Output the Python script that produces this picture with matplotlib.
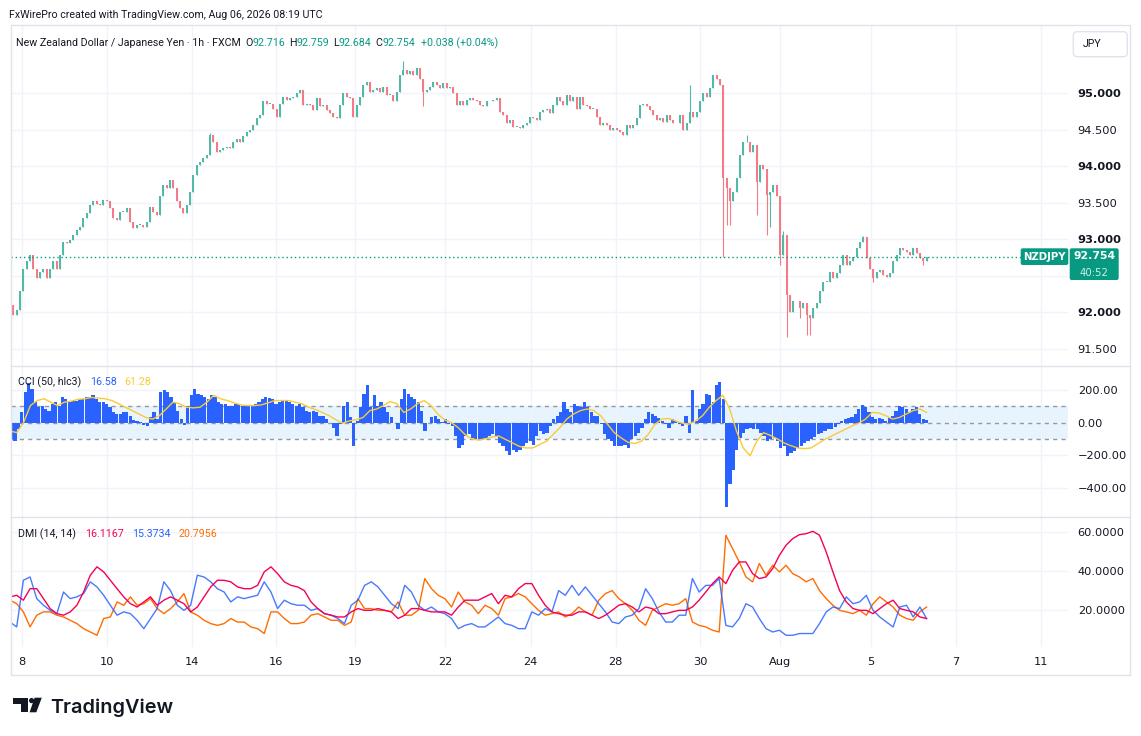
import numpy as np
import matplotlib
matplotlib.use("Agg")
import matplotlib.pyplot as plt
from matplotlib.patches import Rectangle, FancyBboxPatch, Circle, Polygon
from matplotlib.lines import Line2D
from matplotlib.transforms import IdentityTransform, blended_transform_factory

plt.rcParams["font.family"] = ["DejaVu Sans"]

# ---- values (one bar is roughly 1.9 hours) ----
closes = [
    92.10, 91.97, 92.03, 92.29, 92.60, 92.70, 92.79, 92.60, 92.47, 92.56,
    92.60, 92.47, 92.60, 92.70, 92.60, 92.79, 92.97, 92.95, 92.99, 93.06,
    93.13, 93.17, 93.29, 93.36, 93.47, 93.52, 93.49, 93.47, 93.54, 93.52,
    93.43, 93.29, 93.27, 93.38, 93.38, 93.43, 93.24, 93.15, 93.20, 93.20,
    93.17, 93.24, 93.45, 93.38, 93.33, 93.59, 93.74, 93.70, 93.81, 93.70,
    93.52, 93.43, 93.36, 93.47, 93.65, 93.88, 94.02, 94.06, 94.11, 94.16,
    94.43, 94.34, 94.20, 94.22, 94.25, 94.27, 94.25, 94.34, 94.38, 94.33,
    94.41, 94.47, 94.50, 94.57, 94.66, 94.70, 94.89, 94.86,
    94.86, 94.79, 94.68, 94.86, 94.95, 94.91, 94.93, 94.95, 95.00, 95.05,
    94.84, 94.86, 94.84, 94.77, 94.93, 94.82, 94.84, 94.77, 94.73, 94.68,
    94.66, 94.84, 95.00, 94.95, 94.93, 94.68, 94.84, 94.95, 95.11, 95.16,
    95.02, 95.05, 95.07, 95.02, 95.09, 94.98, 94.98, 94.89, 95.02, 95.25,
    95.32, 95.27, 95.30, 95.25, 95.34, 95.20, 95.02, 95.05, 95.09, 95.16,
    95.11, 95.07, 95.14, 95.07, 95.09, 95.00, 94.84, 94.89, 94.84, 94.91,
    94.93, 94.91, 94.89, 94.84, 94.82, 94.89, 94.89, 94.91, 94.93, 94.75,
    94.70, 94.59, 94.63, 94.54, 94.54, 94.52, 94.57, 94.59,
    94.68, 94.66, 94.63, 94.75, 94.77, 94.79, 94.73, 94.84, 94.95, 94.89,
    94.84, 94.98, 94.89, 94.95, 94.79, 94.95, 94.84, 94.82, 94.79, 94.79,
    94.68, 94.57, 94.59, 94.57, 94.50, 94.52, 94.50, 94.47, 94.43, 94.57,
    94.52, 94.57, 94.66, 94.84, 94.86, 94.82, 94.77, 94.70, 94.63, 94.66,
    94.61, 94.70, 94.63, 94.59, 94.59, 94.70, 94.50, 94.59, 94.75, 94.68,
    94.75, 94.89, 95.00, 94.95, 95.07, 95.25, 95.20, 95.11, 93.84, 93.70,
    93.52, 93.65, 93.84, 94.16, 94.33, 94.34, 94.20, 94.29, 93.79, 94.02,
    93.97, 93.61, 93.65, 93.74, 93.59, 92.79, 93.06, 92.24,
    92.01, 92.15, 92.15, 92.06, 92.13, 91.97, 91.92, 92.06, 92.13, 92.29,
    92.42, 92.42, 92.56, 92.47, 92.54, 92.65, 92.79, 92.65, 92.70, 92.76,
    92.88, 92.97, 93.03, 92.74, 92.60, 92.47, 92.56, 92.58, 92.51, 92.49,
    92.54, 92.70, 92.79, 92.88, 92.86, 92.83, 92.79, 92.88, 92.81, 92.74,
    92.70, 92.754,
]
first_open = 92.13
wick_highs = {60: 94.45, 118: 95.44, 204: 95.12, 221: 94.43, 232: 93.11, 256: 93.05}
wick_lows = {124: 94.82, 214: 92.76, 215: 93.20, 216: 93.20, 224: 93.33, 227: 93.06,
             228: 93.17, 231: 92.65, 233: 91.67, 237: 91.92, 239: 91.69, 240: 91.69,
             259: 92.42, 274: 92.65}
last_price = 92.754

cci = [
    -104, -115, -42, 62, 188, 240, 208, 125, 94, 104,
    83, 73, 115, 125, 104, 156, 146, 125, 135, 135,
    146, 146, 156, 156, 167, 146, 125, 125, 115, 94,
    62, 52, 52, 62, 62, 42, 17, 10, 4, -17,
    -21, 31, 62, 21, 188, 198, 188, 156, 125, 73,
    21, -17, 104, 167, 204, 177, 167, 156, 146, 167,
    156, 125, 115, 115, 104, 104, 115, 115, 104, 104,
    104, 108, 115, 129, 146, 156, 150, 146, 115, 125,
    135, 135, 125, 115, 104, 115, 94, 73, 62, 73,
    62, 42, 42, 21, 0, -31, -83, -10, 104, 125,
    31, -146, 10, 94, 177, 229, 94, 167, 104, 125,
    94, 62, 31, 0, -37, 146, 208, 177, 156, 146,
    125, 73, -52, 0, 31, 42, 21, 4, 21, -10,
    -21, -83, -156, -135, -83, -73, -94, -104, -100, -104,
    -94, -83, -73, -83, -125, -146, -177, -198, -167, -183,
    -167, -146, -125, -115,
    -135, -83, -52, -73, -62, -21, 21, 42, 62, 125,
    83, 62, 115, 104, 94, 125, 94, 62, 42, 42,
    -10, -73, -104, -115, -146, -146, -146, -135, -156, -104,
    -83, -62, -31, 21, 62, 52, 42, 25, 10, -10,
    -31, 21, 10, -10, -21, 42, -62, 198, 10, 83,
    115, 177, 167, 125, 229, 250, 146, -521, -375, -292,
    -167, -94, -62, -42, -31, -42, -42, -62, -83, -115,
    -104, -94, -115, -156, -146, -208, -188, -177, -156, -146,
    -125, -115, -104, -88, -73, -62, -52, -42, -37, -27,
    -10, 10, 21, 25, 31, 52, 83, 108, 94, 62,
    31, 21, 25, 21, 10, 25, 42, 73, 104, 94,
    83, 62, 83, 94, 52, 21, 17,
]
cci_ma = [
    -52, -62, 0, 104, 135, 146, 125, 104, 125, 131,
    142, 146, 154, 150, 146, 135, 115, 94, 73, 52,
    31, 21, 42, 83, 125, 115, 94, 90, 94, 125,
    167, 146, 135, 121, 108, 104, 104, 108, 121, 135,
    135, 135, 125, 115, 94, 79, 62, 42, 17, -4,
    10, 17, 31, 73, 83, 104, 129, 115, 62, 83,
    115, 135, 104, 52, 17, 0, -31, -73, -100, -108,
    -100, -88, -83, -104, -125, -146, -156,
    -156, -135, -115, -73, -31, 21, 52, 73, 83, 73,
    42, -10, -62, -94, -121, -129, -115, -73, -10, 21,
    25, 10, -4, -10, 10, 42, 94, 135, 167, 83,
    -52, -156, -204, -115, -62, -79, -100, -125, -142, -156,
    -160, -156, -129, -104, -83, -62, -42, -21, -4, 21,
    62, 58, 42, 21, 31, 52, 73, 83, 62,
]
adx = [
    26.7, 27.5, 25.0, 30.9, 30.9, 25.8, 20.7, 18.1, 17.3, 19.0,
    22.4, 29.2, 37.8, 42.1, 39.5, 35.2, 30.9, 26.7, 23.2, 21.5,
    24.1, 26.7, 22.4, 25.0, 26.7, 25.0, 23.2, 19.0, 21.5, 26.7,
    31.8, 35.2, 35.2, 34.4, 31.8, 30.9, 30.9, 32.6, 39.5, 42.1,
    38.6, 34.4, 32.6, 31.8, 29.9, 24.1, 20.7, 18.1, 17.3, 16.4,
    16.4, 19.0, 20.7, 19.8, 19.8, 20.7, 19.8, 19.0, 15.6, 17.3,
    20.7, 20.7, 19.8, 19.0, 19.0, 19.0, 17.3, 21.5, 25.0, 25.0, 25.0,
    26.7, 28.4, 23.2, 27.5, 26.7, 30.9, 33.5, 33.5, 27.5, 22.4,
    19.0, 18.1, 17.3, 17.3, 19.0, 19.0, 17.3, 15.6, 17.3, 19.8,
    22.4, 23.2, 21.5, 19.0, 21.5, 20.7, 18.1, 18.1, 19.0, 19.8,
    19.8, 21.5, 25.0, 29.2, 33.5, 36.9, 33.5, 40.3, 44.6, 44.6,
    38.6, 36.1, 36.9, 41.2, 48.0, 53.2, 56.6, 58.6, 59.1, 60.3,
    58.3, 49.7, 39.5, 29.9, 24.1, 20.7, 19.8, 19.8, 18.1, 20.7,
    23.2, 25.0, 20.7, 19.8, 19.0, 16.4, 15.6,
]
plus_di = [
    13.8, 11.3, 35.2, 36.9, 25.8, 22.4, 19.8, 18.1, 29.2, 25.8,
    26.7, 28.4, 34.4, 31.8, 27.5, 22.4, 17.3, 19.0, 18.1, 14.7,
    10.4, 15.6, 20.7, 34.4, 29.9, 22.4, 19.8, 22.4, 37.8, 36.9,
    34.4, 30.9, 29.2, 24.1, 26.7, 25.8, 26.7, 27.5, 34.4, 29.2,
    20.7, 25.0, 23.2, 22.4, 22.4, 19.8, 20.7, 18.1, 17.3, 15.6,
    13.0, 22.4, 25.0, 32.6, 34.4, 31.8, 27.5, 23.2, 20.7, 32.6,
    29.2, 22.4, 19.8, 21.5, 19.0, 18.1, 15.6, 10.4, 12.1, 13.0, 11.3,
    11.3, 13.8, 16.4, 13.0, 12.1, 10.4, 10.4, 19.0, 17.3, 20.7,
    19.0, 29.9, 27.5, 32.6, 27.5, 31.8, 27.5, 23.2, 19.0, 13.8,
    13.0, 16.4, 17.3, 20.7, 30.9, 25.8, 19.0, 13.8, 13.8, 17.3,
    17.3, 36.1, 29.2, 32.6, 32.6, 36.1, 12.1, 11.3, 15.6, 23.2,
    21.5, 15.6, 10.4, 8.7, 9.6, 7.0, 7.0, 7.9, 7.9, 7.9,
    13.0, 19.0, 21.5, 20.7, 26.7, 23.2, 24.1, 27.5, 19.8, 16.4,
    13.8, 11.3, 21.5, 22.4, 16.4, 21.5, 15.6,
]
minus_di = [
    25.0, 23.2, 19.0, 11.3, 17.3, 19.0, 19.0, 17.3, 16.4, 14.7,
    13.0, 10.4, 8.7, 7.0, 15.6, 16.4, 24.1, 22.4, 26.7, 22.4,
    23.2, 25.8, 20.7, 18.1, 20.7, 24.1, 28.4, 19.0, 17.3, 14.7,
    13.0, 12.1, 13.0, 15.6, 13.8, 13.8, 11.3, 10.4, 7.9, 19.0,
    19.0, 15.6, 13.0, 13.0, 13.8, 17.3, 18.1, 16.4, 14.7, 14.7,
    12.1, 13.8, 25.8, 20.7, 20.7, 19.8, 19.8, 19.0, 24.1, 17.3,
    17.3, 19.8, 36.1, 30.9, 27.5, 25.8, 21.5, 29.2, 24.1, 22.4, 18.1,
    22.4, 20.7, 17.3, 25.8, 26.7, 28.4, 26.7, 23.2, 19.8, 17.3,
    18.1, 19.0, 16.4, 18.1, 21.5, 19.0, 17.3, 25.0, 28.4, 29.9,
    25.8, 23.2, 19.8, 14.7, 12.1, 19.8, 21.5, 23.2, 22.4, 23.2,
    25.8, 13.8, 12.1, 11.3, 9.6, 8.7, 58.3, 51.5, 44.6, 36.9,
    34.4, 43.8, 37.8, 42.9, 39.5, 42.9, 38.6, 36.9, 34.4, 36.1,
    29.9, 25.8, 22.4, 19.8, 19.0, 18.1, 19.8, 17.3, 23.2, 26.7,
    24.1, 21.5, 17.3, 15.6, 14.7, 19.0, 21.5,
]
tick_labels = ["8", "10", "14", "16", "19", "22", "24", "28", "30", "Aug", "5", "7", "11"]
tick_bars = [3.5, 29.0, 54.5, 79.7, 103.4, 130.5, 156.2, 181.7, 207.0, 231.0, 258.2, 283.7, 309.2]
price_ticks = [91.5, 92.0, 92.5, 93.0, 93.5, 94.0, 94.5, 95.0]
cci_ticks = [200, 0, -200, -400]
dmi_ticks = [60, 40, 20]

# ---- colours ----
UP, DN = "#52b9a9", "#f47a85"
TEAL = "#089981"
INK = "#131722"
GRID = "#f0f3fa"
FRAME = "#e0e3eb"
BLUE, YELLOW = "#2962ff", "#f9cb35"
RED, ORANGE = "#f50057", "#ff6d00"

W, H = 1141, 736
fig = plt.figure(figsize=(W / 100, H / 100), dpi=100)
L, R = 10.7, 1068.3


def rect(top, bottom):
    return [L / W, 1 - bottom / H, (R - L) / W, (bottom - top) / H]


ax_p = fig.add_axes(rect(25, 366))
ax_c = fig.add_axes(rect(366, 516.7), sharex=ax_p)
ax_d = fig.add_axes(rect(516.7, 647), sharex=ax_p)

for ax in (ax_p, ax_c, ax_d):
    ax.patch.set_alpha(0)
    for s in ax.spines.values():
        s.set_visible(False)
    ax.yaxis.tick_right()
    ax.tick_params(length=0, labelsize=8.2, labelcolor=INK, pad=6.8, labelbottom=False)
    ax.grid(True, color=GRID, lw=1)
    ax.set_axisbelow(True)

# ---- candles ----
c = np.array(closes)
o = np.r_[first_open, c[:-1]]
hi = np.maximum(o, c)
lo = np.minimum(o, c)
for i, v in wick_highs.items():
    hi[i] = max(hi[i], v)
for i, v in wick_lows.items():
    lo[i] = min(lo[i], v)
idx = np.arange(len(c))
cols = np.where(c >= o, UP, DN)
ax_p.vlines(idx, lo, hi, colors=cols, lw=0.8)
ax_p.bar(idx, np.maximum(np.abs(c - o), 0.008), bottom=np.minimum(o, c),
         width=0.6, color=cols, lw=0)
ax_p.axhline(last_price, color=TEAL, lw=1, ls=(0, (1, 2)))
ax_p.set_ylim(91.267, 95.935)
ax_p.set_yticks(price_ticks)
# the 92.500 label sits under the last-price tag, as on the original
ax_p.set_yticklabels(["" if v == 92.5 else f"{v:.3f}" for v in price_ticks])
for lab, v in zip(ax_p.get_yticklabels(), price_ticks):
    if float(v).is_integer():
        lab.set_fontweight("bold")

# ---- CCI ----
cx = np.linspace(0.5, len(c) - 1, len(cci))
mx = np.linspace(0, len(c) - 1, len(cci_ma))
ax_c.axhspan(-100, 100, color="#e8f4fd", lw=0, zorder=0.5)
for lvl in (100, 0, -100):
    ax_c.axhline(lvl, color="#9598a1", lw=1, ls=(0, (3, 3)), zorder=0.6)
ax_c.bar(cx, cci, width=0.95, color=BLUE, lw=0, zorder=2)
ax_c.plot(mx, cci_ma, color=YELLOW, lw=1, zorder=3)
ax_c.set_ylim(-578, 347)
ax_c.set_yticks(cci_ticks)
ax_c.set_yticklabels(["200.00", "0.00", "\u2212200.00", "\u2212400.00"])

# ---- DMI ----
dx = np.linspace(0, len(c) - 1, len(adx))
ax_d.plot(dx, minus_di, color=ORANGE, lw=1)
ax_d.plot(dx, plus_di, color=BLUE, lw=1, alpha=0.85)
ax_d.plot(dx, adx, color=RED, lw=1)
ax_d.set_ylim(1.0, 67.8)
ax_d.set_yticks(dmi_ticks)
ax_d.set_yticklabels([f"{v:.4f}" for v in dmi_ticks])

ax_d.set_xticks(tick_bars)
ax_p.set_xlim((L - 10) / 3.333, (R - 10) / 3.333)

# date labels under the indicator pane, at the tick positions
tr = blended_transform_factory(ax_d.transData, fig.transFigure)
for b, lab in zip(tick_bars, tick_labels):
    ax_d.text(b, 1 - 662 / H, lab, transform=tr, ha="center", va="center",
              fontsize=8.2, color=INK, clip_on=False)

# ---- frame and separators (figure pixels, origin top-left) ----
ID = IdentityTransform()


def P(x, y):
    return x, H - y


fig.add_artist(Rectangle(P(L, 675), 1130 - L, 675 - 25, transform=ID,
                         fill=False, ec=FRAME, lw=1))
for yy in (366, 516.7):
    fig.add_artist(Line2D([L, 1130], [H - yy, H - yy], transform=ID, color=FRAME, lw=1))


# ---- texts ----
def chain(ax, parts, x, y, size, family):
    t = ax.text(x / W, 1 - y / H, parts[0][0], transform=fig.transFigure,
                color=parts[0][1], fontsize=size, family=family, va="center", ha="left")
    for s, col, gap in parts[1:]:
        t = ax.annotate(s, xy=(1, 0.5), xycoords=t, xytext=(gap, 0),
                        textcoords="offset points", va="center", ha="left",
                        color=col, fontsize=size, family=family,
                        annotation_clip=False)


fig.text(9.3 / W, 1 - 15 / H, "FxWirePro created with TradingView.com, Aug 06, 2026 08:19 UTC",
         color=INK, fontsize=7.7, family="Roboto", va="center", ha="left")
chain(ax_p, [("New Zealand Dollar / Japanese Yen \u00b7 1h \u00b7 FXCM", INK, 0),
             ("O", INK, 3.2), ("92.716", TEAL, 0),
             ("H", INK, 2.8), ("92.759", TEAL, 0),
             ("L", INK, 2.8), ("92.684", TEAL, 0),
             ("C", INK, 2.8), ("92.754", TEAL, 0),
             ("+0.038 (+0.04%)", TEAL, 4.3)], 16, 43.3, 7.7, "Roboto")
chain(ax_c, [("CCI (50, hlc3)", INK, 0), ("16.58", BLUE, 6.5), ("61.28", YELLOW, 5.3)],
      17.6, 382, 7.7, "Roboto")
chain(ax_d, [("DMI (14, 14)", INK, 0), ("16.1167", RED, 6.5), ("15.3734", BLUE, 6.0),
             ("20.7956", ORANGE, 5.5)], 18.3, 534.3, 7.7, "Roboto")

# JPY box
fig.add_artist(FancyBboxPatch(P(1073.3, 56.7), 54, 25, transform=ID,
                              boxstyle="round,pad=0,rounding_size=4",
                              fc="white", ec=FRAME, lw=1))
fig.text(1082.7 / W, 1 - 44 / H, "JPY", color=INK, fontsize=7.7, family="Roboto",
         va="center", ha="left")

# last price tags
fig.add_artist(FancyBboxPatch(P(1020.7, 265), 47.6, 16.7, transform=ID,
                              boxstyle="round,pad=0,rounding_size=2", fc=TEAL, ec="none"))
fig.text(1044.5 / W, 1 - 256.7 / H, "NZDJPY", color="white", fontsize=7.3,
         fontweight="bold", va="center", ha="center")
fig.add_artist(FancyBboxPatch(P(1069.7, 280), 49, 31.7, transform=ID,
                              boxstyle="round,pad=0,rounding_size=2", fc=TEAL, ec="none"))
fig.text(1094.2 / W, 1 - 256 / H, f"{last_price:.3f}", color="white", fontsize=7.8,
         fontweight="bold", va="center", ha="center")
fig.text(1094.2 / W, 1 - 272.5 / H, "40:52", color="#cdeee8", fontsize=7.3,
         va="center", ha="center")

# TradingView logo
fig.add_artist(Rectangle(P(12.7, 703.7), 15.6, 6, transform=ID, fc=INK, ec="none"))
fig.add_artist(Rectangle(P(20.7, 712.3), 7.6, 14.6, transform=ID, fc=INK, ec="none"))
fig.add_artist(Circle(P(31.6, 700.6), 2.6, transform=ID, fc=INK, ec="none"))
fig.add_artist(Polygon([P(34.6, 697.7), P(41.8, 697.7), P(36.3, 712.3), P(29.6, 712.3)],
                       transform=ID, fc=INK, ec="none"))
fig.text(50 / W, 1 - 712.7 / H, "TradingView", color=INK, fontsize=14.3,
         family="Inter", fontweight="semibold", va="baseline", ha="left")

fig.savefig("out.png", dpi=100, facecolor="white")
